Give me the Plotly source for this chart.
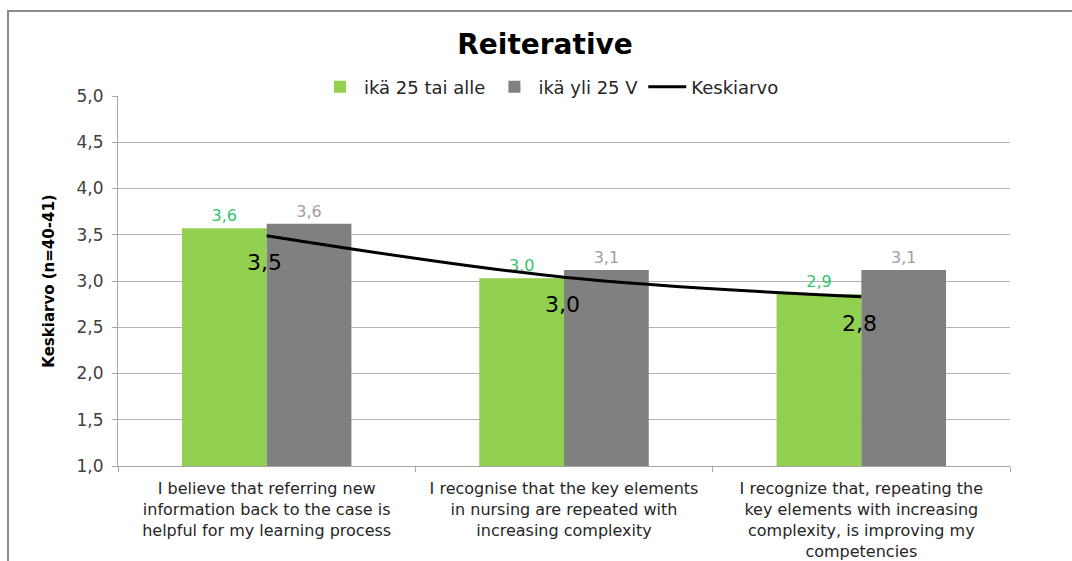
import plotly.graph_objects as go

# Survey statements (x-axis categories)
categories = [
    "I believe that referring new<br>information back to the case is<br>helpful for my learning process",
    "I recognise that the key elements<br>in nursing are repeated with<br>increasing complexity",
    "I recognize that, repeating the<br>key elements with increasing<br>complexity, is improving my<br>competencies",
]

# Group means
age_25_or_under = [3.57, 3.03, 2.86]
age_over_25 = [3.62, 3.12, 3.12]
overall_mean = [3.49, 3.04, 2.83]

series_names = ["ikä 25 tai alle", "ikä yli 25 V", "Keskiarvo"]
y_ticks = [1.0, 1.5, 2.0, 2.5, 3.0, 3.5, 4.0, 4.5, 5.0]

FONT = "DejaVu Sans"
W, H = 1072, 561
L, R, T, B = 118, 62, 96, 95
PW, PH = W - L - R, H - T - B


def px_x(px):
    return (px - L) / PW


def px_y(py):
    return (H - B - py) / PH


def fmt(v):
    return f"{v:.1f}".replace(".", ",")


fig = go.Figure()

fig.add_trace(go.Bar(
    x=categories, y=age_25_or_under, name=series_names[0],
    marker=dict(color="#92d050", line=dict(width=0)),
    texttemplate="%{y:.1f}", textposition="outside", cliponaxis=False,
    textfont=dict(family=FONT, size=16, color="#33c46a"),
))
fig.add_trace(go.Bar(
    x=categories, y=age_over_25, name=series_names[1],
    marker=dict(color="#808080", line=dict(width=0)),
    texttemplate="%{y:.1f}", textposition="outside", cliponaxis=False,
    textfont=dict(family=FONT, size=16, color="#a0a0a0"),
))
fig.add_trace(go.Scatter(
    x=categories, y=overall_mean, name=series_names[2],
    mode="lines", line=dict(color="black", width=3, shape="spline"),
))

# Value labels for the mean line, set below each point
for cat, v in zip(categories, overall_mean):
    fig.add_annotation(x=cat, y=v, text=fmt(v), showarrow=False,
                       yshift=-27, xshift=-2,
                       font=dict(family=FONT, size=22, color="black"))

fig.update_layout(
    width=W, height=H,
    margin=dict(l=L, r=R, t=T, b=B, autoexpand=False),
    paper_bgcolor="white", plot_bgcolor="white",
    separators=",.",
    barmode="group", bargap=0.43, bargroupgap=0,
    font=dict(family=FONT, size=16, color="#262626"),
    title=dict(text="<b>Reiterative</b>", xref="container", x=545 / W,
               xanchor="center", yref="container", y=1 - 44 / H,
               yanchor="middle",
               font=dict(family=FONT, size=28, color="black")),
    legend=dict(orientation="h", x=px_x(550), xanchor="center",
                y=px_y(87), yanchor="middle",
                font=dict(family=FONT, size=18, color="#262626"),
                traceorder="normal", itemwidth=38, bgcolor="rgba(0,0,0,0)"),
    showlegend=True,
)

fig.update_yaxes(
    range=[1.0, 5.0], tickvals=y_ticks, tickformat=".1f",
    showgrid=True, gridcolor="#b4b4b4", gridwidth=1,
    showline=True, linecolor="#a6a6a6", linewidth=1,
    ticks="outside", ticklen=5, tickcolor="#a6a6a6", ticklabelstandoff=5,
    tickfont=dict(family=FONT, size=17, color="#404040"),
    title=dict(text="<b>Keskiarvo (n=40-41)</b>", standoff=18,
               font=dict(family=FONT, size=15, color="black")),
    zeroline=False, automargin=False,
)
fig.update_xaxes(
    showline=True, linecolor="#a6a6a6", linewidth=1,
    ticks="outside", ticklen=5, tickcolor="#a6a6a6", tickson="boundaries",
    ticklabelstandoff=8,
    tickfont=dict(family=FONT, size=16, color="#262626"),
    automargin=False,
)

# Chart frame (top and left edges)
fig.add_shape(type="line", xref="paper", yref="paper",
              x0=px_x(7), x1=px_x(1072), y0=px_y(11), y1=px_y(11),
              line=dict(color="#8c8c8c", width=2))
fig.add_shape(type="line", xref="paper", yref="paper",
              x0=px_x(8), x1=px_x(8), y0=px_y(11), y1=px_y(561),
              line=dict(color="#8c8c8c", width=2))

fig.write_html("out.html")
